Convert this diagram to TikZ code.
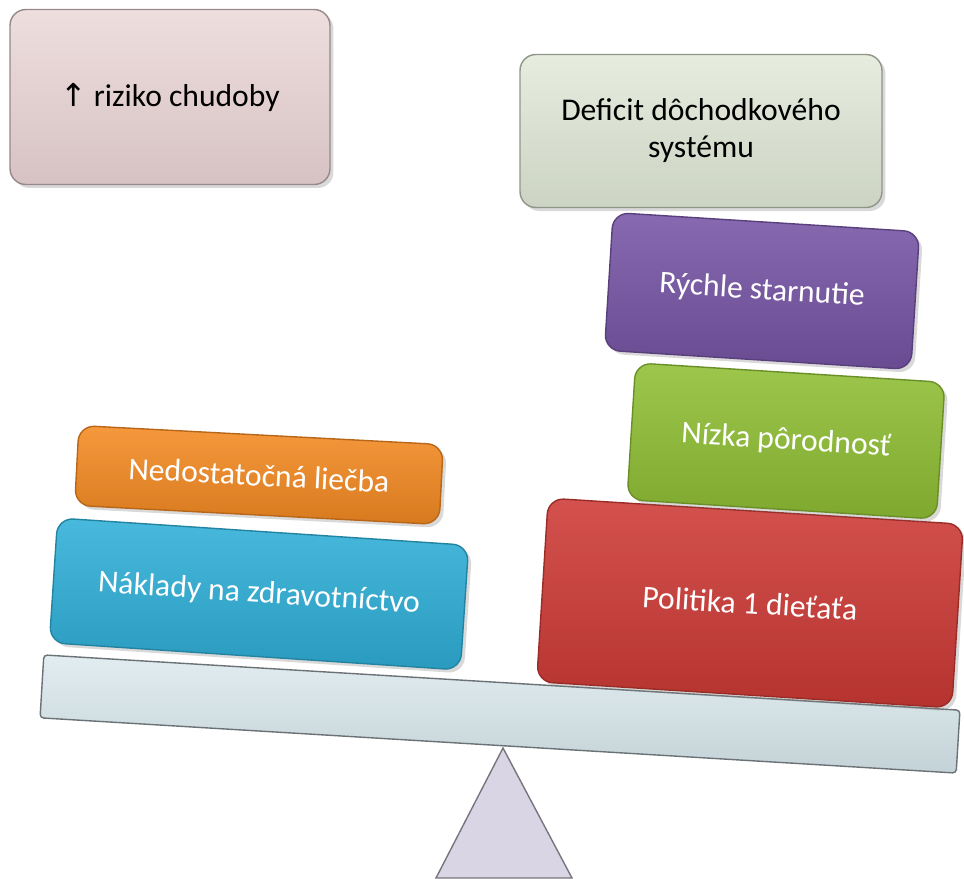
\documentclass[tikz,border=0pt]{standalone}
\usepackage{fontspec}
\setmainfont{Carlito}
\newfontfamily\symfont{DejaVu Sans}
\usetikzlibrary{shadows}

\definecolor{pinkfill}{HTML}{E9D3D3}
\definecolor{sagefill}{HTML}{DEE6D4}
\definecolor{purplefill}{HTML}{7755A6}
\definecolor{greenfill}{HTML}{8FBF34}
\definecolor{redfill}{HTML}{CE3A36}
\definecolor{orangefill}{HTML}{F58A22}
\definecolor{bluefill}{HTML}{2FB0D8}
\definecolor{beamfill}{HTML}{D5E5EA}
\definecolor{pivotfill}{HTML}{D9D5E4}

\begin{document}
\begin{tikzpicture}[x=0.02cm,y=-0.02cm,thick,
  block/.style={rectangle,rounded corners=9pt,align=center,font=\fontsize{18}{21}\selectfont,text=white,drop shadow={shadow xshift=2pt,shadow yshift=-2pt,opacity=0.3}},
  pale block/.style={block,text=black,draw=#1!65!black,top color=#1!75!white,bottom color=#1!92!black},
  color block/.style={block,draw=#1!75!black,top color=#1!88!white,bottom color=#1!88!black,rotate=-3.6}]
    \useasboundingbox (0,0) rectangle (964,879);

    % pivot and beam
    \coordinate (apex) at (503,748);
    \draw[fill=pivotfill,draw=pivotfill!55!black] (apex) -- (572,878) -- (436,878) -- cycle;
    \node[rectangle,rounded corners=2pt,draw=beamfill!50!black,top color=beamfill!70!white,bottom color=beamfill!92!black,minimum width=18.36cm,minimum height=1.26cm,rotate=-3.45] (beam) at (500,714) {};

    % left side
    \node[color block=bluefill,minimum width=8.24cm,minimum height=2.5cm,rotate=-0.2] (naklady) at (259,594) {Náklady na zdravotníctvo};
    \node[color block=orangefill,minimum width=7.3cm,minimum height=1.6cm,rotate=0.6] (liecba) at (259,475) {Nedostatočná liečba};

    % right side
    \node[color block=redfill,minimum width=8.32cm,minimum height=3.68cm] (politika) at (750,603) {Politika 1 dieťaťa};
    \node[color block=greenfill,minimum width=6.2cm,minimum height=2.74cm] (porod) at (786,441) {Nízka pôrodnosť};
    \node[color block=purplefill,minimum width=6.14cm,minimum height=2.76cm] (starnutie) at (762,291) {Rýchle starnutie};

    % outcomes
    \node[pale block=pinkfill,minimum width=6.4cm,minimum height=3.5cm] (riziko) at (170,97) {{\symfont ↑} riziko chudoby};
    \node[pale block=sagefill,minimum width=7.24cm,minimum height=3.06cm] (deficit) at (701,131) {Deficit dôchodkového\\systému};
\end{tikzpicture}
\end{document}
